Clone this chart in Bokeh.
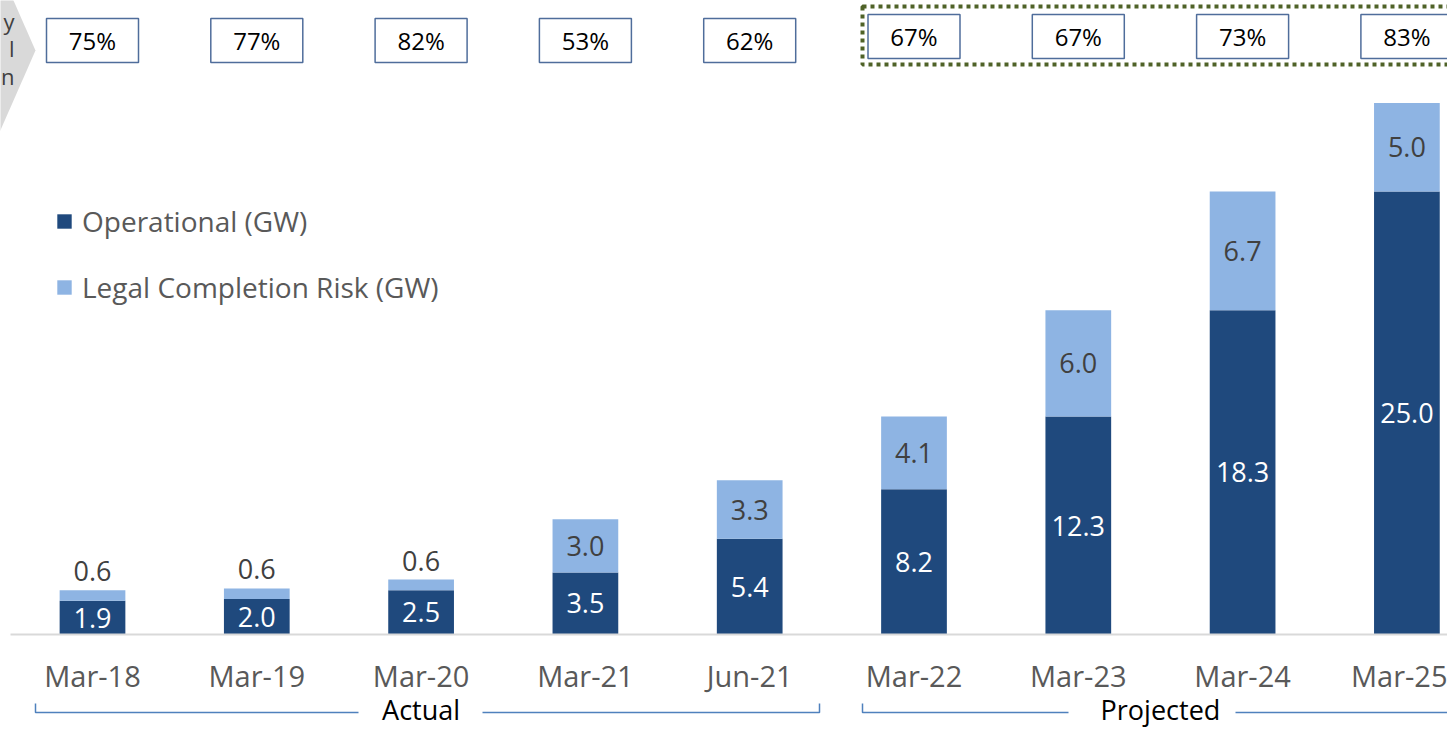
from bokeh.plotting import figure
from bokeh.models import Range1d, FixedTicker, Legend, LegendItem, ColumnDataSource
from bokeh.core.properties import value
from bokeh.embed import file_html
from bokeh.resources import INLINE

# ---------------- data ----------------
categories = ["Mar-18", "Mar-19", "Mar-20", "Mar-21", "Jun-21",
              "Mar-22", "Mar-23", "Mar-24", "Mar-25"]
operational = [1.9, 2.0, 2.5, 3.5, 5.4, 8.2, 12.3, 18.3, 25.0]
legal_risk = [0.6, 0.6, 0.6, 3.0, 3.3, 4.1, 6.0, 6.7, 5.0]
completion_share = ["75%", "77%", "82%", "53%", "62%", "67%", "67%", "73%", "83%"]
period_groups = ["Actual", "Projected"]
group_members = [[0, 1, 2, 3, 4], [5, 6, 7, 8]]
chevron_words = ["y", "l", "n"]

# ---------------- layout helpers (pixel -> data) ----------------
W, H = 1447, 730
X0, DX = 92.0, 164.3       # x of first category, pixels per category
Y0, DY = 634.0, 17.72      # y of baseline, pixels per GW


def dx(px):
    return (px - X0) / DX


def dy(py):
    return (Y0 - py) / DY


FONT = "Open Sans"
DARK = "#1F497D"
LIGHT = "#8EB4E3"

p = figure(width=W, height=H, output_backend="svg", toolbar_location=None,
           x_range=Range1d(dx(0), dx(W)), y_range=Range1d(dy(H), dy(0)),
           min_border=0, y_axis_location=None)
p.outline_line_color = None
p.xgrid.visible = False
p.ygrid.visible = False

xs = list(range(len(categories)))
tops = [o + l for o, l in zip(operational, legal_risk)]

# left chevron (clipped at edge)
p.patch(x=[dx(v) for v in [-60, -4.6, 35, -4.6, -60]],
        y=[dy(v) for v in [-40, -40, 50, 140, 140]],
        fill_color="#D9D9D9", line_color=None)
p.text(x=[dx(14)] * 3, y=[dy(20), dy(47), dy(75)], text=chevron_words,
       text_align="right", text_baseline="middle",
       text_font=value(FONT), text_font_size="22px", text_color="#404040")

# bars
src = ColumnDataSource(dict(x=xs, op=operational, lr=legal_risk, top=tops))
r_op = p.vbar(x="x", width=0.4, bottom=0, top="op", source=src,
              fill_color=DARK, line_color=None)
r_lr = p.vbar(x="x", width=0.4, bottom="op", top="top", source=src,
              fill_color=LIGHT, line_color=None)

# data labels
p.text(x=xs, y=[o / 2 for o in operational], text=[f"{v:.1f}" for v in operational],
       text_align="center", text_baseline="middle", text_font=value(FONT),
       text_font_size="27px", text_color="white")
lr_y, lr_off = [], []
for o, l, t in zip(operational, legal_risk, tops):
    if l * DY < 30:
        lr_y.append(t)
        lr_off.append(-19)
    else:
        lr_y.append(o + l / 2)
        lr_off.append(0)
lsrc = ColumnDataSource(dict(x=xs, y=lr_y, off=lr_off,
                             t=[f"{v:.1f}" for v in legal_risk]))
p.text(x="x", y="y", y_offset="off", text="t", source=lsrc,
       text_align="center", text_baseline="middle", text_font=value(FONT),
       text_font_size="27px", text_color="#404040")

# x axis at baseline
ax = p.xaxis[0]
ax.fixed_location = 0
ax.ticker = FixedTicker(ticks=xs)
ax.major_label_overrides = {i: c for i, c in enumerate(categories)}
ax.major_tick_line_color = None
ax.minor_tick_line_color = None
ax.axis_line_color = "#D9D9D9"
ax.axis_line_width = 2
ax.bounds = (dx(10), dx(W))
ax.major_label_text_font = FONT
ax.major_label_text_font_size = "29px"
ax.major_label_text_color = "#595959"
ax.major_label_standoff = 15

# top percentage boxes
box_y = [dy(40)] * len(group_members[0]) + [dy(36)] * len(group_members[1])
p.rect(x=xs, y=box_y, width=92, height=44, width_units="screen", height_units="screen",
       fill_color="white", line_color="#4F6D9B", line_width=1.5)
p.text(x=xs, y=box_y, text=completion_share, text_align="center", text_baseline="middle",
       text_font=value(FONT), text_font_size="24px", text_color="black")

# dotted frame around projected boxes
p.quad(left=dx(862), right=dx(1530), top=dy(6), bottom=dy(64),
       fill_color=None, line_color="#4F6228", line_width=4, line_dash="4 4")

# bottom brackets
bx = [[35, 35, 358], [482, 819, 819], [862, 862, 1068], [1235, 1530]]
by = [[703, 712, 712], [712, 712, 703], [703, 712, 712], [712, 712]]
p.multi_line(xs=[[dx(v) for v in a] for a in bx], ys=[[dy(v) for v in a] for a in by],
             line_color="#4F81BD", line_width=1.5)
gx = [sum(g) / len(g) for g in group_members]
p.text(x=gx, y=[dy(709)] * 2, text=period_groups, text_align="center",
       text_baseline="middle", text_font=value(FONT), text_font_size="27px",
       text_color="black")

# legend
legend = Legend(items=[LegendItem(label="Operational (GW)", renderers=[r_op]),
                       LegendItem(label="Legal Completion Risk (GW)", renderers=[r_lr])],
                location=(55, 424), orientation="vertical", border_line_color=None,
                background_fill_alpha=0, padding=0, margin=0, spacing=28,
                glyph_width=18, glyph_height=18, label_standoff=9,
                label_text_font=FONT, label_text_font_size="28px",
                label_text_color="#595959")
p.add_layout(legend)

open("out.html", "w").write(file_html(p, INLINE))
